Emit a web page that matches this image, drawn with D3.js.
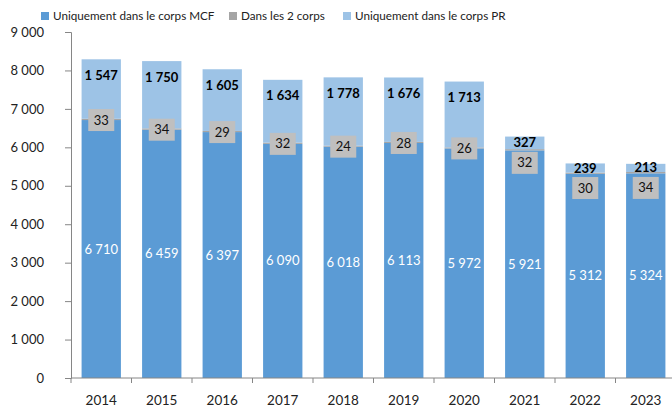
<!DOCTYPE html>
<html>
<head>
<meta charset="utf-8">
<script src="https://cdn.jsdelivr.net/npm/d3@7"></script>
<style>
  body { margin: 0; background: #fff; }
  svg { font-family: Lato, "Open Sans", sans-serif; }
</style>
</head>
<body>
<div id="chart"></div>
<script>
// données
const years = ["2014", "2015", "2016", "2017", "2018", "2019", "2020", "2021", "2022", "2023"];
const mcfOnly = [6710, 6459, 6397, 6090, 6018, 6113, 5972, 5921, 5312, 5324];
const both = [33, 34, 29, 32, 24, 28, 26, 32, 30, 34];
const prOnly = [1547, 1750, 1605, 1634, 1778, 1676, 1713, 327, 239, 213];
const yTicks = [0, 1000, 2000, 3000, 4000, 5000, 6000, 7000, 8000, 9000];
const seriesNames = ["Uniquement dans le corps MCF", "Dans les 2 corps", "Uniquement dans le corps PR"];

const colors = ["#5b9bd5", "#a5a5a5", "#9dc3e6"];
const fmt = (v) => d3.format(",")(v).replace(/,/g, " ");

const width = 672, height = 407;
const svg = d3.select("#chart").append("svg")
  .attr("width", width)
  .attr("height", height);

const x = d3.scaleBand().domain(years).range([71, 676]).paddingInner(0.35).paddingOuter(0.175);
const y = d3.scaleLinear().domain([0, 9000]).range([378, 32]);

// axe Y
const yAxis = svg.append("g")
  .attr("transform", "translate(71,0)")
  .call(d3.axisLeft(y).tickValues(yTicks).tickSize(6).tickFormat(fmt));
yAxis.select(".domain").attr("stroke", "#868686");
yAxis.selectAll(".tick line").attr("stroke", "#868686");
yAxis.selectAll("text").attr("x", -27).attr("fill", "#222").style("font-size", "13px").style("font-family", "Lato, sans-serif");

// barres empilées
const rows = years.map((yr, i) => ({ year: yr, mcf: mcfOnly[i], both: both[i], pr: prOnly[i] }));
const stack = d3.stack().keys(["mcf", "both", "pr"])(rows);

svg.append("g").selectAll("g")
  .data(stack)
  .join("g")
  .attr("fill", (d, i) => colors[i])
  .selectAll("rect")
  .data((d) => d)
  .join("rect")
  .attr("x", (d) => x(d.data.year))
  .attr("width", x.bandwidth())
  .attr("y", (d) => y(d[1]))
  .attr("height", (d) => y(d[0]) - y(d[1]));

// axe X
const xAxis = svg.append("g")
  .attr("transform", "translate(0,378)");
xAxis.append("line")
  .attr("x1", 71).attr("x2", 676)
  .attr("stroke", "#868686");
xAxis.selectAll(".tk")
  .data(years.concat(["end"]))
  .join("line")
  .attr("x1", (d, i) => 71 + i * x.step())
  .attr("x2", (d, i) => 71 + i * x.step())
  .attr("y1", 0).attr("y2", 5)
  .attr("stroke", "#868686");
xAxis.selectAll("text")
  .data(years)
  .join("text")
  .attr("x", (d) => x(d) + x.bandwidth() / 2)
  .attr("y", 27)
  .attr("text-anchor", "middle")
  .attr("fill", "#222")
  .style("font-size", "13.5px")
  .text((d) => d);

// étiquettes
const labels = svg.append("g").style("font-size", "13px");
rows.forEach((r, i) => {
  const cx = x(r.year) + x.bandwidth() / 2;
  const yMcf = y(r.mcf);
  const yTop = y(r.mcf + r.both + r.pr);
  const yPrBottom = y(r.mcf + r.both);

  labels.append("text")
    .attr("x", cx)
    .attr("y", (y(0) + yMcf) / 2)
    .attr("dy", "0.35em")
    .attr("text-anchor", "middle")
    .attr("fill", "#fff")
    .text(fmt(r.mcf));

  const prY = Math.min(yTop + 16, (yTop + yPrBottom) / 2);
  labels.append("text")
    .attr("x", cx)
    .attr("y", prY)
    .attr("dy", "0.35em")
    .attr("text-anchor", "middle")
    .attr("fill", "#000")
    .attr("font-weight", "bold")
    .text(fmt(r.pr));

  const boxY = Math.max(yMcf, prY + 20);
  labels.append("rect")
    .attr("x", cx - 13)
    .attr("y", boxY - 11)
    .attr("width", 26)
    .attr("height", 22)
    .attr("fill", "#bfbfbf");
  labels.append("text")
    .attr("x", cx)
    .attr("y", boxY)
    .attr("dy", "0.35em")
    .attr("text-anchor", "middle")
    .attr("fill", "#111")
    .text(r.both);
});

// légende
const legendX = [41, 229, 343];
const legend = svg.append("g").style("font-size", "11.7px");
seriesNames.forEach((name, i) => {
  legend.append("rect")
    .attr("x", legendX[i]).attr("y", 12)
    .attr("width", 8).attr("height", 8)
    .attr("fill", colors[i]);
  legend.append("text")
    .attr("x", legendX[i] + 12)
    .attr("y", 16)
    .attr("dy", "0.35em")
    .attr("fill", "#222")
    .text(name);
});
</script>
</body>
</html>
